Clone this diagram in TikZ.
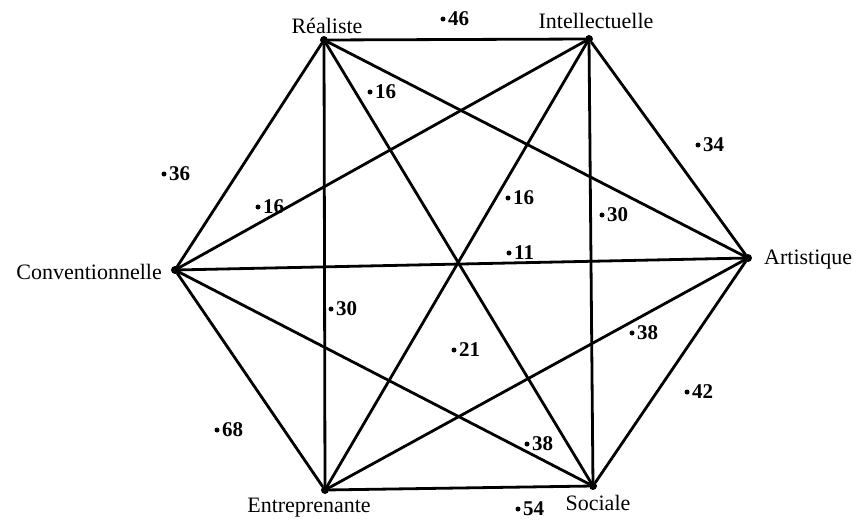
\documentclass[tikz,border=0pt]{standalone}
\usepackage{fontspec}
\setmainfont{Liberation Serif}
\begin{document}
\begin{tikzpicture}[x=1pt,y=-1pt,
  vtx/.style={circle,fill=black,inner sep=0pt,minimum size=8pt},
  lbl/.style={font=\fontsize{22}{25}\selectfont,inner sep=0pt},
  num/.style={font=\fontsize{21}{24}\selectfont\bfseries,inner sep=0pt,anchor=west},
  pt/.style={circle,fill=black,inner sep=0pt,minimum size=5pt},
  edge/.style={line width=2.8pt,line cap=round}]
\useasboundingbox (0,0) rectangle (857,522);
% vertices
\node[vtx] (R) at (324,40) {};
\node[vtx] (I) at (589,39) {};
\node[vtx] (A) at (748,258) {};
\node[vtx] (S) at (593,486) {};
\node[vtx] (E) at (325,490) {};
\node[vtx] (C) at (175,270) {};
% edges
\foreach \a/\b in {R/I,I/A,A/S,S/E,E/C,C/R,R/E,I/S,C/A,R/S,I/E,R/A,I/C,C/S,E/A}
  \draw[edge] (\a) -- (\b);
% labels
\node[lbl,anchor=base] (lR) at (327,33) {Réaliste};
\node[lbl,anchor=base] (lI) at (596,28) {Intellectuelle};
\node[lbl,anchor=base west] (lA) at (764,264) {Artistique};
\node[lbl,anchor=base east] (lC) at (162,279) {Conventionnelle};
\node[lbl,anchor=base] (lE) at (309,512) {Entreprenante};
\node[lbl,anchor=base] (lS) at (598,510) {Sociale};
% scores
\foreach \n/\x/\y/\t in {a/443/19/46, b/370/92/16, c/164/174/36, d/258/207/16,
  e/508/198/16, f/602/215/30, g/698/145/34, h/509/253/11, i/331/309/30,
  j/454/350/21, k/632/333/38, l/687/392/42, m/217/430/68, n/527/444/38, o/518/509/54}
{
  \node[pt] (p\n) at (\x,\y) {};
  \node[num] (t\n) at (\x+5,\y) {\t};
}
\end{tikzpicture}
\end{document}
